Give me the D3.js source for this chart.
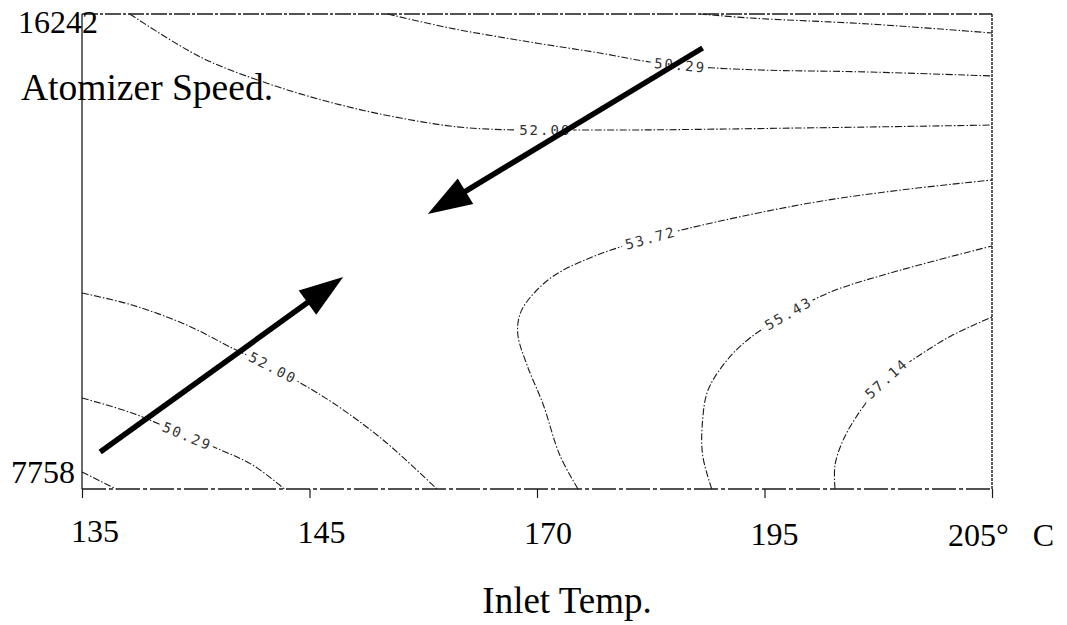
<!DOCTYPE html>
<html><head><meta charset="utf-8">
<script src="https://cdn.jsdelivr.net/npm/d3@7"></script>
<style>body{margin:0;background:#fff}</style>
</head><body>
<svg id="chart" width="1067" height="625"></svg>
<script>
// ---- data ----
const xTicks = [135, 145, 170, 195, 205];
const xTickLabels = ["135", "145", "170", "195", "205\u00B0\u00A0\u00A0\u00A0C"];
const yTicks = [7758, 16242];
const yTickLabels = ["7758", "16242"];
const xTitle = "Inlet Temp.";
const yTitle = "Atomizer Speed.";

const levels = [48.57, 50.29, 52.00, 53.72, 55.43, 57.14];

// contour lines: [inlet temp, atomizer speed]
const c4857top = [[187.9,16242],[193.5,16170],[199.6,16063],[205,15903]];
const c5029top = [[153.6,16242],[160.4,15992],[169.2,15742],[176.9,15545],[182.4,15385],[187.9,15295],[194.5,15242],[199.6,15206],[205,15135]];
const c5200top = [[137.1,16242],[140.2,15474],[143.1,15010],[147.6,14652],[155.0,14384],[162.6,14206],[176.9,14170],[196.6,14206],[205,14259]];
const c5372 = [[174.5,7758],[172.5,8365],[170.7,9258],[168.9,9973],[167.9,10509],[168.1,10866],[169.2,11169],[171.8,11562],[175.8,11884],[179.5,12098],[186.8,12420],[197.0,12866],[201.0,13098],[205,13277]];
const c5543 = [[189.2,7758],[188.2,8365],[188.2,8990],[188.8,9526],[190.9,10062],[193.4,10455],[196.1,10902],[197.9,11277],[201.0,11670],[205,12098]];
const c5714 = [[198.1,7758],[198.1,8187],[198.5,8669],[199.3,9205],[200.3,9705],[201.7,10116],[203.2,10491],[205,10830]];
const c5200low = [[135,11259],[137.2,11044],[139.6,10687],[141.6,10276],[143.4,9919],[144.6,9651],[147.6,9294],[153.1,8633],[159.0,7758]];
const c5029low = [[135,9383],[137.2,9115],[139.5,8722],[141.1,8455],[142.5,8187],[143.9,7758]];
const c4857low = [[135,8062],[136.5,7758]];

const contourLines = [c4857top, c5029top, c5200top, c5372, c5543, c5714, c5200low, c5029low, c4857low];
const contourLevels = [levels[0], levels[1], levels[2], levels[3], levels[4], levels[5], levels[2], levels[1], levels[0]];
// label anchor (temp, speed) or null
const contourLabelAt = [null, [185.7,15360], [170.9,14180], [182.5,12230], [196.0,10920], [200.6,9620], [143.4,9919], [139.6,8700], null];

// annotation arrows: [from, to] in (temp, speed)
const arrowFrom = [[135.8, 8419], [188.2, 15635]];
const arrowTo   = [[148.7, 11545], [158.0, 12670]];

// ---- layout ----
const L = 82, R = 992, T = 14, B = 489;
const svg = d3.select("#chart");
const x = d3.scaleLinear().domain(xTicks).range(xTicks.map((d, i) => L + i * (R - L) / (xTicks.length - 1)));
const y = d3.scaleLinear().domain([yTicks[0], yTicks[1]]).range([B, T]);
const xLab = d3.scalePoint().domain(xTickLabels).range([95, 1001]);

const serif = "'Liberation Serif', 'Times New Roman', serif";
const ink = "#1a1a1a";

// frame
const frame = svg.append("g").attr("stroke", ink).attr("fill", "none");
frame.append("line").attr("x1", L).attr("x2", R).attr("y1", T).attr("y2", T).attr("stroke-width", 1.3).attr("stroke-dasharray", "16,2,3,2");
frame.append("line").attr("x1", L).attr("x2", L).attr("y1", T).attr("y2", B).attr("stroke-width", 1.3);
frame.append("line").attr("x1", R).attr("x2", R).attr("y1", T).attr("y2", B).attr("stroke-width", 1.4).attr("stroke-dasharray", "3,1");
frame.append("line").attr("x1", L).attr("x2", R).attr("y1", B).attr("y2", B).attr("stroke-width", 1.3).attr("stroke-dasharray", "24,3,4,3");

// x axis ticks
const xa = svg.append("g").attr("transform", `translate(0,${B})`)
  .call(d3.axisBottom(x).tickValues(xTicks).tickSize(9).tickFormat(""));
xa.select(".domain").remove();
xa.selectAll(".tick line").attr("stroke", ink).attr("stroke-width", 1.2);

// x tick labels
svg.append("g").selectAll("text").data(xTickLabels).join("text")
  .attr("x", d => xLab(d)).attr("y", (d, i) => 542 + i)
  .attr("text-anchor", "middle").attr("font-family", serif).attr("font-size", 32).attr("fill", "#000")
  .text(d => d);

// y tick labels
svg.append("g").selectAll("text").data(yTicks).join("text")
  .attr("x", (d, i) => i === 1 ? 98 : 75)
  .attr("y", (d, i) => i === 1 ? y(d) + 19 : y(d) - 6)
  .attr("text-anchor", "end").attr("font-family", serif).attr("font-size", 32).attr("fill", "#000")
  .text((d, i) => yTickLabels[i]);

// titles
svg.append("text").attr("x", 21).attr("y", 100).attr("font-family", serif).attr("font-size", 37.5).attr("fill", "#000").text(yTitle);
svg.append("text").attr("x", 567).attr("y", 613).attr("text-anchor", "middle").attr("font-family", serif).attr("font-size", 37).attr("fill", "#000").text(xTitle);

// contours
const line = d3.line().x(d => x(d[0])).y(d => y(d[1])).curve(d3.curveCatmullRom.alpha(0.5));
const cg = svg.append("g");
const paths = cg.selectAll("path").data(contourLines).join("path")
  .attr("d", line).attr("fill", "none").attr("stroke", ink).attr("stroke-width", 1.1)
  .attr("stroke-dasharray", "7,2,1.5,2");

// contour labels
const lg = svg.append("g");
paths.each(function(d, i) {
  const at = contourLabelAt[i];
  if (!at) return;
  const p = this, len = p.getTotalLength();
  const tx = x(at[0]), ty = y(at[1]);
  let best = 0, bd = Infinity;
  for (let s = 0; s <= len; s += 1) {
    const q = p.getPointAtLength(s);
    const dd = (q.x - tx) ** 2 + (q.y - ty) ** 2;
    if (dd < bd) { bd = dd; best = s; }
  }
  const q = p.getPointAtLength(best);
  const a = p.getPointAtLength(Math.max(0, best - 6)), b = p.getPointAtLength(Math.min(len, best + 6));
  let ang = Math.atan2(b.y - a.y, b.x - a.x) * 180 / Math.PI;
  if (ang > 90) ang -= 180; if (ang < -90) ang += 180;
  lg.append("text")
    .attr("transform", `translate(${q.x},${q.y}) rotate(${ang})`)
    .attr("dy", "0.35em").attr("text-anchor", "middle")
    .attr("font-family", "'DejaVu Sans Mono', monospace").attr("font-size", 14)
    .attr("letter-spacing", 2)
    .attr("fill", "#333").attr("stroke", "#fff").attr("stroke-width", 9).attr("paint-order", "stroke")
    .text(contourLevels[i].toFixed(2));
});

// arrows
const ag = svg.append("g");
arrowFrom.forEach((f, i) => {
  const x1 = x(f[0]), y1 = y(f[1]), x2 = x(arrowTo[i][0]), y2 = y(arrowTo[i][1]);
  const ang = Math.atan2(y2 - y1, x2 - x1);
  const hl = 44, hw = 15;
  const bx = x2 - hl * Math.cos(ang), by = y2 - hl * Math.sin(ang);
  ag.append("line").attr("x1", x1).attr("y1", y1).attr("x2", bx + 4 * Math.cos(ang)).attr("y2", by + 4 * Math.sin(ang))
    .attr("stroke", "#000").attr("stroke-width", 5.5);
  const px = -Math.sin(ang), py = Math.cos(ang);
  ag.append("path")
    .attr("d", `M${x2},${y2}L${bx + hw * px},${by + hw * py}L${bx - hw * px},${by - hw * py}Z`)
    .attr("fill", "#000");
});
</script>
</body></html>
